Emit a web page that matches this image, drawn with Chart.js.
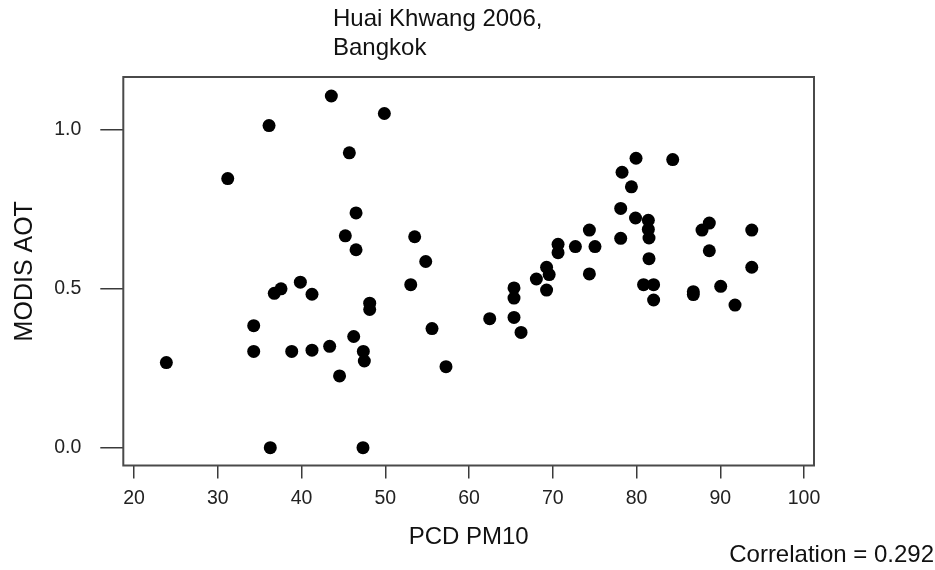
<!DOCTYPE html>
<html>
<head>
<meta charset="utf-8">
<script src="https://cdn.jsdelivr.net/npm/chart.js@4/dist/chart.umd.min.js"></script>
<style>
  html, body { margin: 0; padding: 0; background: #fff; }
  #wrap { width: 935px; height: 570px; }
</style>
</head>
<body>
<div id="wrap"><canvas id="c" width="935" height="570"></canvas></div>
<script>
// ---- data ----
const pm10 = [43.56, 49.89, 36.12, 45.71, 31.19, 46.51, 45.23, 46.51, 53.51, 54.83,
  39.86, 36.75, 37.55, 41.25, 53.04, 48.14, 48.14, 34.29, 34.29, 38.83,
  41.25, 43.36, 46.23, 47.38, 47.50, 44.54, 55.58, 57.25, 23.86, 36.27,
  47.34, 79.94, 84.32, 78.27, 79.39, 78.11, 79.88, 81.41, 81.41, 81.49,
  78.11, 81.49, 74.37, 70.63, 70.63, 72.70, 75.04, 74.37, 69.26, 69.57,
  68.04, 69.26, 65.37, 65.37, 62.47, 65.37, 66.21, 80.84, 82.04, 82.04,
  86.78, 86.78, 87.82, 88.69, 88.69, 93.76, 93.76, 90.05, 91.76];
const aot = [1.107, 1.052, 1.014, 0.928, 0.847, 0.739, 0.667, 0.623, 0.664, 0.586,
  0.521, 0.486, 0.500, 0.483, 0.513, 0.455, 0.435, 0.384, 0.303, 0.303,
  0.307, 0.319, 0.350, 0.303, 0.273, 0.226, 0.375, 0.255, 0.268, 0.000,
  0.000, 0.911, 0.907, 0.867, 0.821, 0.753, 0.723, 0.716, 0.687, 0.660,
  0.659, 0.595, 0.685, 0.640, 0.614, 0.633, 0.633, 0.547, 0.568, 0.545,
  0.531, 0.496, 0.503, 0.471, 0.406, 0.410, 0.363, 0.513, 0.513, 0.465,
  0.491, 0.482, 0.685, 0.707, 0.620, 0.685, 0.568, 0.508, 0.449];
const xTickValues = [20, 30, 40, 50, 60, 70, 80, 90, 100];
const xTickLabels = ['20', '30', '40', '50', '60', '70', '80', '90', '100'];
const yTickValues = [0, 0.5, 1.0];
const yTickLabels = ['0.0', '0.5', '1.0'];
const titleLines = ['Huai Khwang 2006,', 'Bangkok'];
const xTitle = 'PCD PM10';
const yTitle = 'MODIS AOT';
const corrText = 'Correlation = 0.292';

const points = pm10.map((x, i) => ({ x: x, y: aot[i] }));
const FONT = "'Liberation Sans', Arial, sans-serif";
const AXIS_COLOR = '#3a3a3a';

const extras = {
  id: 'extras',
  afterDraw(chart) {
    const ctx = chart.ctx;
    const a = chart.chartArea;
    ctx.save();
    ctx.strokeStyle = '#4a4a4a';
    ctx.lineWidth = 2;
    ctx.strokeRect(a.left, a.top, a.right - a.left, a.bottom - a.top);
    ctx.fillStyle = '#111';
    ctx.font = '24px ' + FONT;
    ctx.textAlign = 'left';
    ctx.textBaseline = 'middle';
    ctx.fillText(titleLines[0], 333, 19);
    ctx.fillText(titleLines[1], 333, 48);
    ctx.textAlign = 'right';
    ctx.fillText(corrText, 934, 555);
    ctx.restore();
  }
};

new Chart(document.getElementById('c'), {
  type: 'scatter',
  data: {
    datasets: [{
      data: points,
      backgroundColor: '#000',
      borderColor: '#000',
      pointRadius: 6.5,
      pointHoverRadius: 6.5,
      borderWidth: 0
    }]
  },
  options: {
    responsive: false,
    animation: false,
    events: [],
    layout: { padding: { top: 77, right: 121, left: 0, bottom: 0 } },
    plugins: { legend: { display: false }, tooltip: { enabled: false }, title: { display: false } },
    scales: {
      x: {
        type: 'linear',
        min: 18.72,
        max: 101.19,
        afterFit(s) { s.height = 104.5; },
        afterBuildTicks(s) { s.ticks = xTickValues.map(v => ({ value: v })); },
        border: { display: false },
        grid: { drawOnChartArea: false, drawTicks: true, tickLength: 13, color: AXIS_COLOR, lineWidth: 1.5 },
        ticks: {
          color: '#222',
          font: { family: FONT, size: 19.5 },
          padding: 8,
          maxRotation: 0,
          autoSkip: false,
          callback(v, i) { return xTickLabels[i]; }
        },
        title: {
          display: true,
          text: xTitle,
          color: '#111',
          font: { family: FONT, size: 24 },
          padding: { top: 0, bottom: 18 }
        }
      },
      y: {
        type: 'linear',
        min: -0.056,
        max: 1.1668,
        afterFit(s) { s.width = 123.3; },
        afterBuildTicks(s) { s.ticks = yTickValues.map(v => ({ value: v })); },
        border: { display: false },
        grid: { drawOnChartArea: false, drawTicks: true, tickLength: 23, color: AXIS_COLOR, lineWidth: 1.5 },
        ticks: {
          color: '#222',
          font: { family: FONT, size: 19.5 },
          padding: 19,
          autoSkip: false,
          callback(v, i) { return yTickLabels[i]; }
        },
        title: {
          display: true,
          text: yTitle,
          color: '#111',
          font: { family: FONT, size: 25 },
          padding: { top: 10, bottom: 0 }
        }
      }
    }
  },
  plugins: [extras]
});
</script>
</body>
</html>
